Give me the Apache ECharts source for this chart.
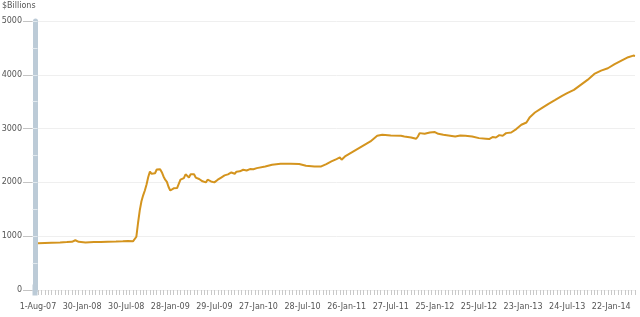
<!DOCTYPE html>
<html>
<head>
<meta charset="utf-8">
<script src="https://cdn.jsdelivr.net/npm/echarts@6/dist/echarts.min.js"></script>
<style>
html,body{margin:0;padding:0;background:#fff;}
#chart{width:640px;height:317px;}
</style>
</head>
<body>
<div id="chart"></div>
<script>
// Week index counted from 1-Aug-07 (weekly observations)
var tickLabels = ['1-Aug-07','30-Jan-08','30-Jul-08','28-Jan-09','29-Jul-09','27-Jan-10','28-Jul-10',
                  '26-Jan-11','27-Jul-11','25-Jan-12','25-Jul-12','23-Jan-13','24-Jul-13','22-Jan-14'];
var yTicks = [0, 1000, 2000, 3000, 4000, 5000];

var weekIdx = [0,4,8,13,17,20,22,24,28,33,37,41,46,50,53,56,57,
  58,59,60,61,62,63,64,65,66,67,68,69,70,71,72,73,74,75,76,77,78,79,80,81,82,83,84,85,86,87,88,89,90,
  91,92,93,94,95,96,97,98,99,100,101,102,103,104,105,106,107,108,109,110,111,112,113,114,115,116,117,
  118,119,120,121,122,123,124,125,126,127,128,129,130,
  134,138,143,149,154,158,163,167,170,173,176,178,179,181,186,191,196,200,203,208,214,
  216,220,223,224,225,228,231,234,236,239,242,246,249,252,256,260,264,266,268,270,272,274,276,279,282,285,288,290,
  293,297,301,305,309,312,316,320,324,328,332,336,340,344,348,351,352];

var assets = [870,875,880,885,890,895,925,895,885,890,890,895,900,905,910,905,915,
  990,1250,1480,1650,1760,1850,1960,2100,2200,2160,2130,2170,2240,2255,2245,2190,2110,2050,2010,1915,1850,1860,1890,1895,1895,1910,2050,2070,2080,2150,2185,2090,2150,
  2185,2150,2090,2063,2063,2063,2020,2005,2000,2050,2060,2018,1990,2000,2035,2050,2074,2090,2124,2130,2140,2150,2170,2185,2160,2160,2200,
  2205,2205,2210,2235,2230,2222,2240,2248,2250,2245,2255,2265,2270,
  2297,2328,2347,2347,2341,2310,2297,2297,2341,2390,2434,2464,2421,2482,2575,2668,2761,2866,2885,2872,2866,
  2853,2835,2811,2853,2916,2903,2928,2935,2903,2885,2872,2853,2872,2866,2853,2823,2811,2805,2842,2835,2879,2866,2916,2928,2991,3071,3113,3213,
  3299,3380,3460,3534,3609,3659,3720,3813,3905,4016,4078,4122,4197,4263,4327,4357,4350];

var seriesData = weekIdx.map(function(w, i){ return [w, assets[i]]; });

var FONT = 'DejaVu Sans';
var chart = echarts.init(document.getElementById('chart'), null, {renderer:'canvas'});
chart.setOption({
  animation: false,
  backgroundColor: '#ffffff',
  title: {
    text: '$Billions', left: 2, top: 2, padding: 0,
    textStyle: {fontSize: 8, fontWeight: 'normal', color: '#555', fontFamily: FONT}
  },
  grid: {left: 38, right: 5, top: 21, bottom: 27, containLabel: false, outerBoundsMode: 'none'},
  xAxis: {
    type: 'value', min: 0, max: 352, interval: 26,
    axisLine: {show: false, onZero: false},
    axisTick: {show: true, length: 5, lineStyle: {color: '#c9c9c9', width: 1}},
    minorTick: {show: true, splitNumber: 13, length: 5, lineStyle: {color: '#c9c9c9', width: 1}},
    splitLine: {show: false},
    axisLabel: {
      margin: 13, fontSize: 8, color: '#555', fontFamily: FONT,
      showMaxLabel: false, hideOverlap: false,
      formatter: function(v){ var k = v / 26; return (k === Math.round(k) && tickLabels[k]) ? tickLabels[k] : ''; }
    }
  },
  yAxis: [{
    type: 'value', min: yTicks[0], max: yTicks[yTicks.length-1], interval: 1000, offset: 3,
    axisLine: {show: true, onZero: false, symbol: ['rect','none'], symbolSize: [5, 11], lineStyle: {color: '#bccbd7', width: 5}},
    axisTick: {show: true, length: 12, lineStyle: {color: '#c4c4c4'}},
    axisLabel: {margin: 13, fontSize: 8, color: '#555', fontFamily: FONT,
      formatter: function(v){ return String(v); }},
    splitLine: {show: true, lineStyle: {color: '#efefef', width: 1}}
  }, {
    type: 'value', min: 0, max: 5000, interval: 500, offset: 5.5, position: 'left',
    axisLine: {show: false, onZero: false},
    axisTick: {show: true, inside: true, length: 5, lineStyle: {color: '#e2e9ee'}},
    axisLabel: {show: false},
    splitLine: {show: false}
  }],
  series: [{
    type: 'line', yAxisIndex: 0, data: seriesData, showSymbol: false, symbol: 'none',
    lineStyle: {color: '#d4941e', width: 2},
    z: 3
  }]
});
</script>
</body>
</html>
